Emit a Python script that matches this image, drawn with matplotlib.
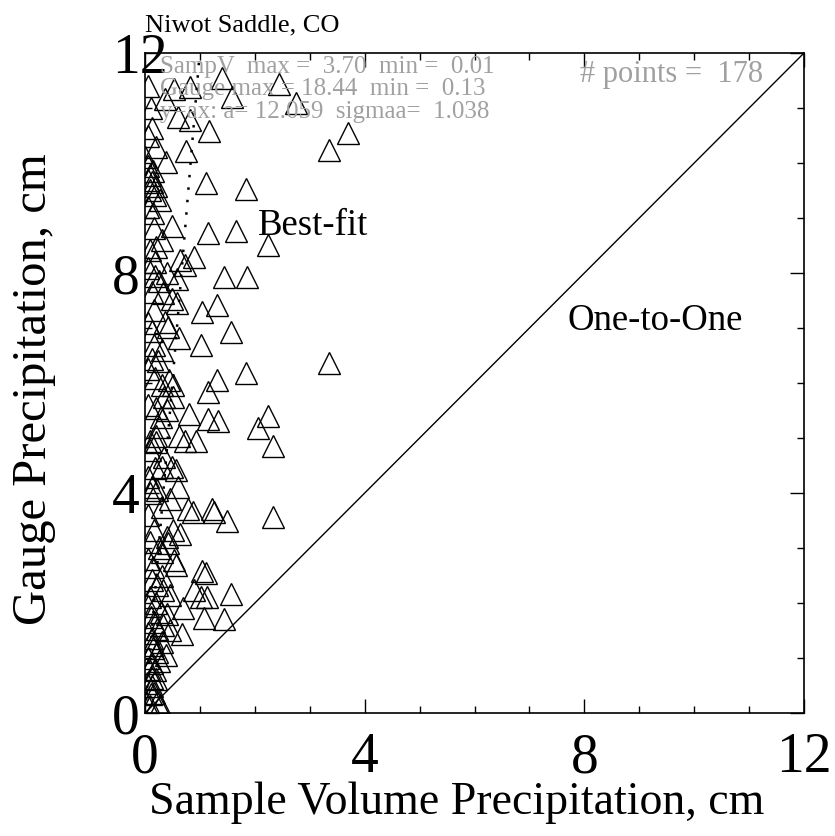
import numpy as np
import matplotlib.pyplot as plt
from matplotlib.ticker import MultipleLocator

plt.rcParams['font.family'] = ['Liberation Serif', 'DejaVu Serif']

# sample-volume precipitation (cm) vs gauge precipitation (cm), Niwot Saddle
samp_v = [
    1.40, 1.58, 2.44, 2.75, 3.35, 3.70, 2.24, 3.35, 2.24, 2.06, 2.33, 2.33,
    1.84, 1.11, 0.75, 0.53, 0.82, 0.36, 0.13, 0.60, 0.82, 1.17, 0.00, 0.38,
    0.09, 0.13, 0.09, 0.18, 0.27, 0.05, 0.20, 0.15,
    0.16, 0.49, 1.15, 1.66, 0.20, 0.09, 0.18, 0.64, 0.89, 0.73, 1.44, 1.86,
    0.18, 0.58, 0.13, 0.33, 0.49, 0.58, 1.31, 1.04, 0.16, 1.57, 1.02, 0.36,
    0.42, 0.62, 0.13, 0.16, 0.13, 0.24, 1.84, 1.31, 0.18, 0.44,
    0.31, 0.51, 1.15, 0.20, 0.40, 0.51, 0.80, 1.15, 1.33, 0.29, 0.20, 0.62,
    0.73, 0.93, 0.09, 0.09, 0.20, 0.31, 0.49, 0.56, 0.18, 0.13, 0.22, 0.60,
    0.09, 0.78, 0.87, 1.22, 1.26, 1.49, 0.16, 0.51, 0.64, 0.09, 0.42,
    0.31, 0.53, 0.56, 1.04, 1.11, 1.57, 0.89, 1.02, 1.13, 1.07, 1.44, 0.69,
    0.13, 0.22, 0.33, 0.46, 0.09, 0.29, 0.16, 0.33, 0.46, 0.67,
    0.13, 0.13, 0.22, 0.38, 0.13, 0.18, 0.13, 0.13, 0.16, 0.22, 0.27, 0.09,
    0.01, 0.10, 0.03, 0.20, 0.08, 0.25, 0.05, 0.15, 0.30, 0.05, 0.22, 0.10,
    0.40, 0.05, 0.20, 0.30, 0.15, 0.05, 0.25, 0.40,
    0.05, 0.30, 0.45, 0.05, 0.35, 0.25, 0.05, 0.35, 0.05, 0.30, 0.05, 0.25,
    0.40, 0.05, 0.30,
    0.05, 0.15, 0.05, 0.20, 0.05, 0.10, 0.05, 0.95,
]
gauge = [
    11.55, 11.20, 11.44, 11.09, 10.24, 10.55, 8.51, 6.36, 5.40, 5.18, 4.85, 3.56,
    9.53, 9.64, 10.22, 11.35, 11.38, 11.16, 10.64, 10.84, 10.78, 10.58, 10.11, 10.02,
    9.78, 9.65, 9.51, 9.42, 9.33, 9.70, 9.58, 9.85,
    8.82, 8.85, 8.73, 8.76, 8.47, 8.42, 8.20, 8.24, 8.29, 8.15, 7.93, 7.93,
    7.95, 7.89, 7.65, 7.64, 7.53, 7.45, 7.42, 7.29, 7.33, 6.93, 6.69, 7.11,
    7.02, 6.82, 6.95, 6.69, 6.44, 6.40, 6.18, 6.05, 6.09, 6.05,
    5.96, 5.96, 5.84, 5.55, 5.51, 5.75, 5.44, 5.35, 5.31, 5.38, 5.04, 5.04,
    4.95, 4.95, 4.95, 4.78, 4.93, 4.47, 4.47, 4.42, 4.45, 4.11, 4.05, 4.11,
    4.00, 3.71, 3.65, 3.71, 3.65, 3.49, 3.33, 3.33, 3.25, 3.11, 3.09,
    2.93, 2.78, 2.70, 2.58, 2.55, 2.16, 2.24, 2.11, 2.11, 1.73, 1.71, 1.91,
    2.42, 2.33, 2.24, 2.15, 2.11, 1.84, 1.65, 1.60, 1.51, 1.44,
    1.36, 1.24, 1.11, 1.05, 0.91, 0.78, 0.64, 0.49, 0.36, 0.20, 0.15, 0.13,
    0.20, 0.35, 0.55, 0.62, 0.80, 0.95, 1.00, 1.18, 1.30, 1.45, 1.52, 1.75,
    1.80, 1.95, 2.00, 2.50, 2.65, 2.80, 3.00, 3.20,
    3.60, 3.75, 3.90, 4.30, 4.65, 5.20, 5.60, 5.75, 6.25, 6.60, 7.10, 7.85,
    8.00, 8.10, 8.60,
    9.20, 9.10, 9.95, 10.30, 10.50, 11.00, 11.40, 18.44,
]
slope_a = 12.059
axis_max = 12

stats = ['SampV  max =  3.70  min =  0.01',
         'Gauge max = 18.44  min =  0.13',
         'y=ax: a= 12.059  sigmaa=  1.038']

fig = plt.figure(figsize=(8.35, 8.36), dpi=100)
ax = fig.add_axes([0.1737, 0.1471, 0.7892, 0.7895])

ax.plot(samp_v, gauge, linestyle='none', marker='^', markersize=15.5,
        markerfacecolor='none', markeredgecolor='black', markeredgewidth=1.0)

# best-fit line through the origin, y = a*x
fit_x = np.array([0, axis_max / slope_a])
ax.plot(fit_x, slope_a * fit_x, color='black', linestyle=(0, (1, 4)), linewidth=1.8)

# one-to-one line
ax.plot([0, axis_max], [0, axis_max], color='black', linewidth=1.0)

ax.set_xlim(0, axis_max)
ax.set_ylim(0, axis_max)
ax.xaxis.set_major_locator(MultipleLocator(4))
ax.xaxis.set_minor_locator(MultipleLocator(1))
ax.yaxis.set_major_locator(MultipleLocator(4))
ax.yaxis.set_minor_locator(MultipleLocator(1))
ax.tick_params(which='both', direction='in', top=True, right=True, width=1.0)
ax.tick_params(which='major', length=10, labelsize=40)
ax.tick_params(axis='x', which='major', pad=14)
ax.tick_params(axis='y', which='major', pad=24)
ax.tick_params(which='minor', length=5)
for lab in ax.get_yticklabels():
    lab.set_horizontalalignment('left')
for s in ax.spines.values():
    s.set_linewidth(1.2)

ax.set_xlabel('Sample Volume Precipitation, cm', fontsize=33)
ax.xaxis.set_label_coords(0.473, -0.103)
ax.set_ylabel('Gauge Precipitation, cm', fontsize=35)
ax.yaxis.set_label_coords(-0.135, 0.49)

ax.text(0.0, 1.032, 'Niwot Saddle, CO', transform=ax.transAxes,
        ha='left', va='baseline', fontsize=19)

for i, line in enumerate(stats):
    ax.text(0.0228, 0.970 - i * 0.034, line, transform=ax.transAxes,
            ha='left', va='baseline', fontsize=18, color='#a0a0a0')
ax.text(0.660, 0.956, '# points =  178', transform=ax.transAxes,
        ha='left', va='baseline', fontsize=22, color='#a0a0a0')

ax.text(2.06, 8.69, 'Best-fit', ha='left', va='baseline', fontsize=26.5)
ax.text(7.70, 6.96, 'One-to-One', ha='left', va='baseline', fontsize=26.5)

fig.savefig('out.png', dpi=100)
